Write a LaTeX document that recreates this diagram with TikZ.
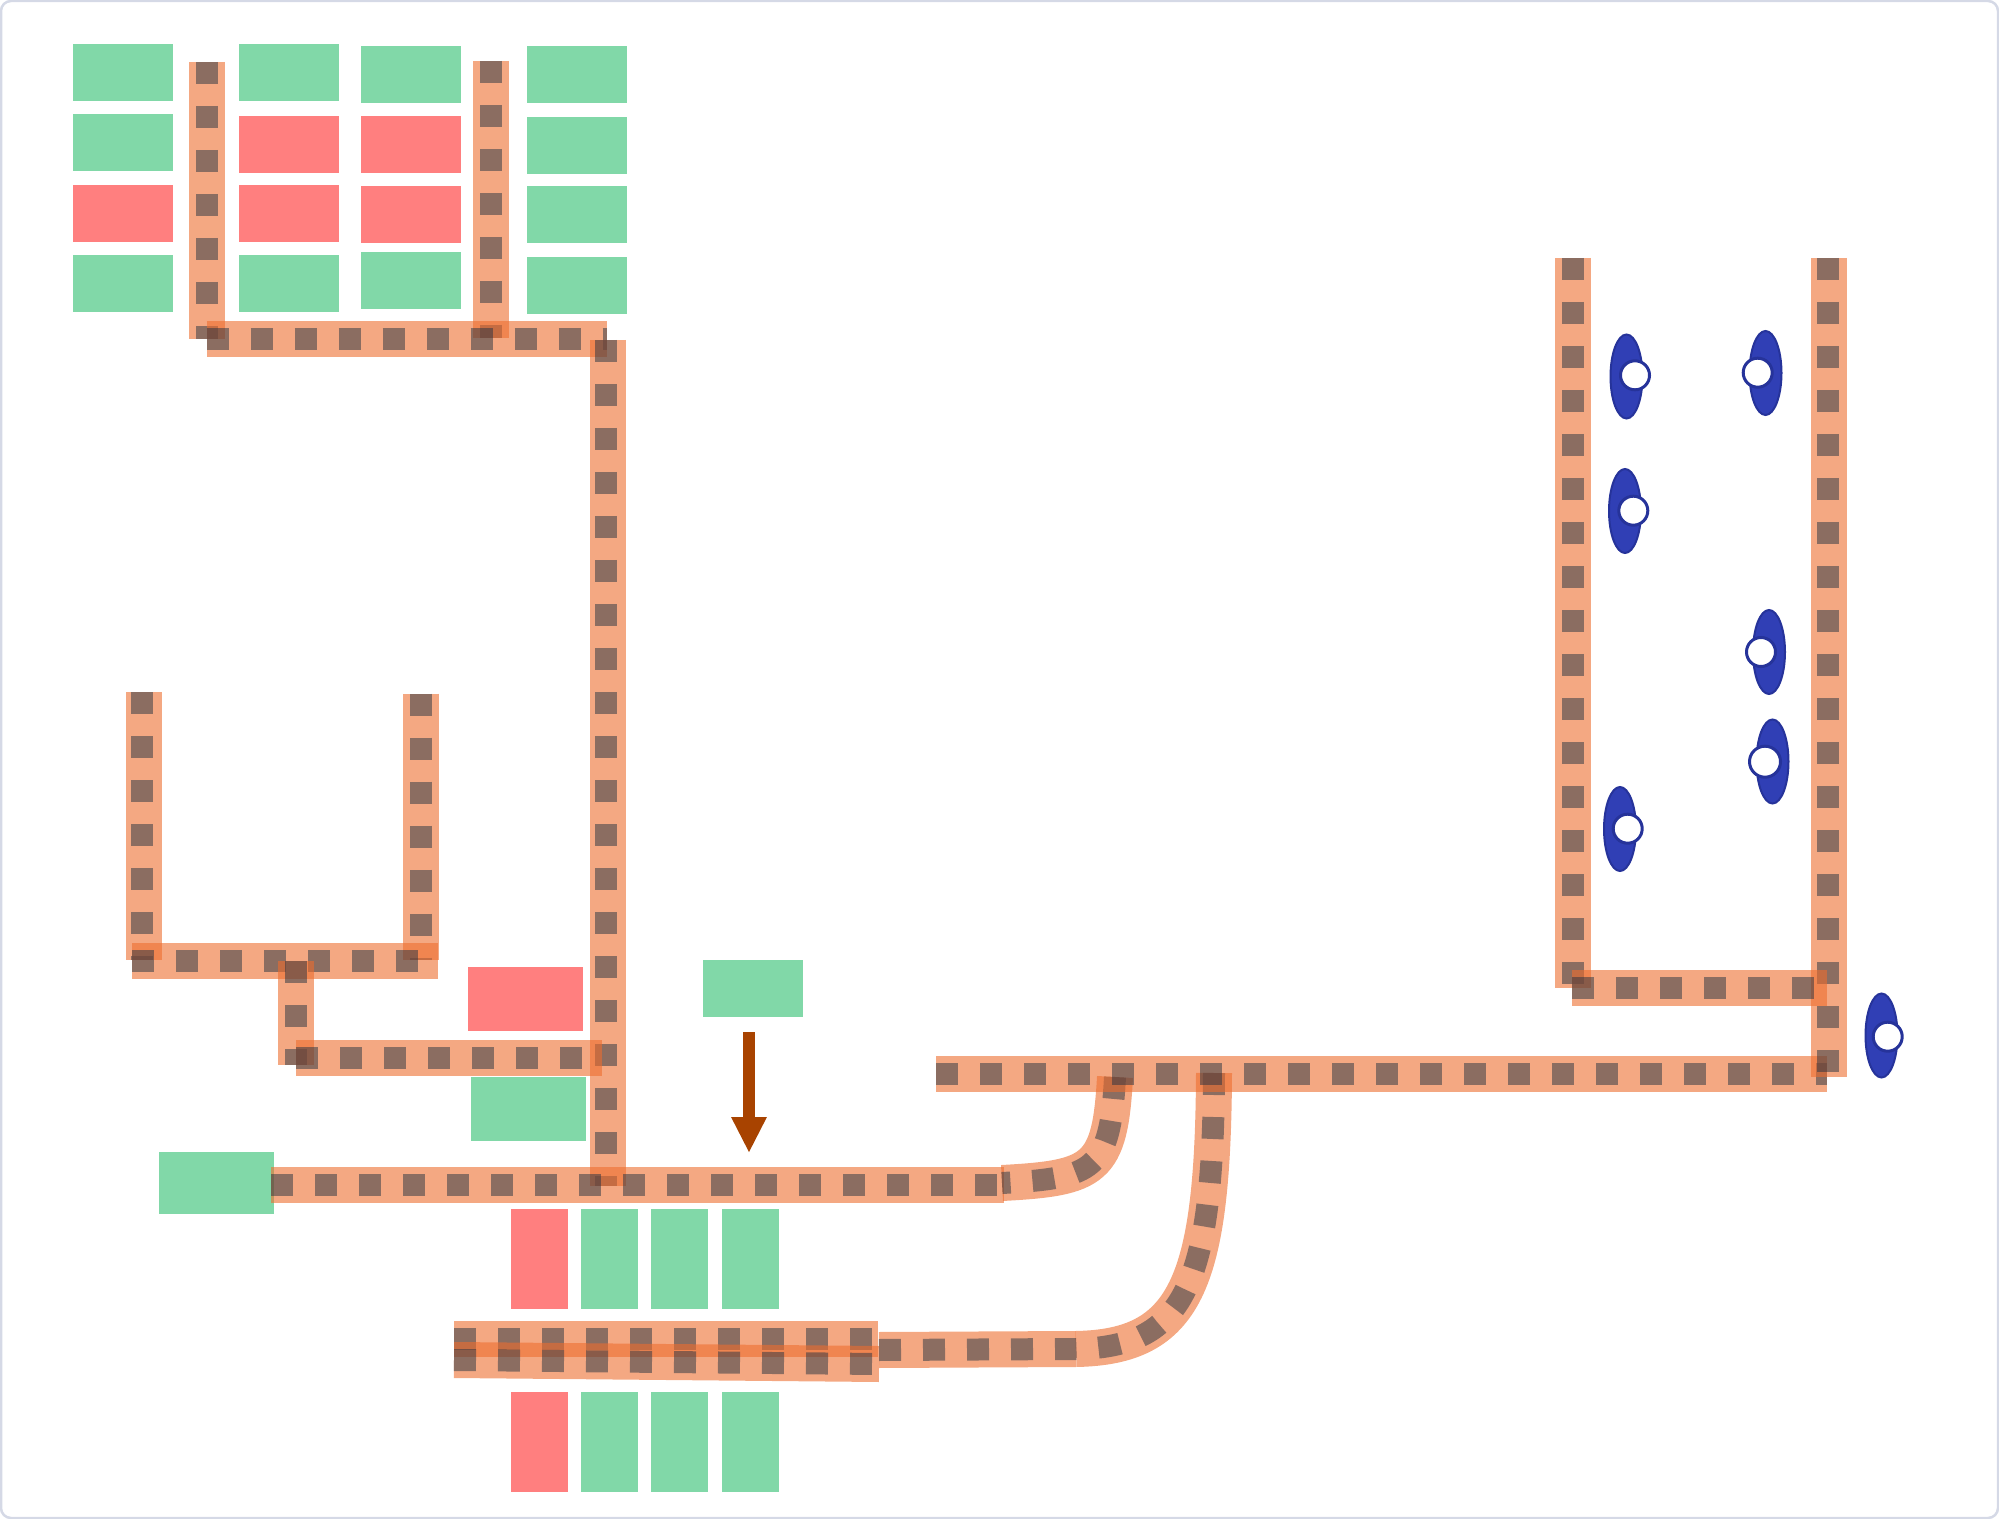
\documentclass[tikz,border=0pt]{standalone}
\usetikzlibrary{shapes.geometric, arrows.meta}

\definecolor{slabgreen}{HTML}{81D8A8}
\definecolor{slabred}{HTML}{FF7F7F}
\definecolor{railorange}{HTML}{ED6E2F}
\definecolor{tiedark}{HTML}{243242}
\definecolor{podblue}{HTML}{303FB5}
\definecolor{podedge}{HTML}{26339A}
\definecolor{arrowrust}{HTML}{A84300}
\definecolor{frameline}{HTML}{D5D9E6}

\newcommand{\track}[2][0]{\draw[railband] #2; \draw[railties, xshift=#1pt] #2;}

\begin{document}
\begin{tikzpicture}[
    x=0.5pt, y=-0.5pt,
    >=Stealth,
    slab/.style={rectangle, draw=none, inner sep=0pt, minimum width=50pt, minimum height=28.5pt},
    bigslab/.style={slab, minimum width=57.5pt, minimum height=32pt},
    tallslab/.style={slab, minimum width=28.5pt, minimum height=50pt},
    railband/.style={draw=railorange, draw opacity=0.6, line width=18pt},
    railties/.style={draw=tiedark, draw opacity=0.5, line width=11pt, dash pattern=on 11pt off 11pt},
    pod/.style={ellipse, fill=podblue, draw=podedge, line width=1pt, inner sep=0pt, minimum width=16pt, minimum height=42pt},
    hole/.style={circle, fill=white, draw=podedge, line width=1.5pt, inner sep=0pt, minimum size=14.5pt}
]

    \useasboundingbox (0,0) rectangle (1999,1519);
    \draw[frameline, line width=1.25pt, rounded corners=5pt] (1,1) rectangle (1998,1518);

    \node[slab, fill=slabgreen] at (123, 73) (rowAa) {};
    \node[slab, fill=slabgreen] at (123, 143) (rowAb) {};
    \node[slab, fill=slabred]   at (123, 214) (rowAc) {};
    \node[slab, fill=slabgreen] at (123, 284) (rowAd) {};

    \node[slab, fill=slabgreen] at (288.5, 73) (rowBa) {};
    \node[slab, fill=slabred]   at (288.5, 144.5) (rowBb) {};
    \node[slab, fill=slabred]   at (288.5, 214) (rowBc) {};
    \node[slab, fill=slabgreen] at (288.5, 284) (rowBd) {};

    \node[slab, fill=slabgreen] at (410.5, 74.5) (rowCa) {};
    \node[slab, fill=slabred]   at (410.5, 145) (rowCb) {};
    \node[slab, fill=slabred]   at (410.5, 215) (rowCc) {};
    \node[slab, fill=slabgreen] at (411, 281) (rowCd) {};

    \node[slab, fill=slabgreen] at (576.5, 74.5) (rowDa) {};
    \node[slab, fill=slabgreen] at (576.5, 145.5) (rowDb) {};
    \node[slab, fill=slabgreen] at (576.5, 215) (rowDc) {};
    \node[slab, fill=slabgreen] at (576.5, 285.5) (rowDd) {};

    \node[slab, fill=slabgreen] at (752.5, 988) (depot) {};
    \node[bigslab, fill=slabred]   at (525, 999) (sideRed) {};
    \node[bigslab, fill=slabgreen] at (528.5, 1108.5) (sideGreen) {};
    \node[bigslab, fill=slabgreen, minimum height=31pt] at (216, 1183) (headGreen) {};

    \node[tallslab, fill=slabred]   at (539, 1259) (upperA) {};
    \node[tallslab, fill=slabgreen] at (609.5, 1259) (upperB) {};
    \node[tallslab, fill=slabgreen] at (679, 1259) (upperC) {};
    \node[tallslab, fill=slabgreen] at (750, 1259) (upperD) {};

    \node[tallslab, fill=slabred]   at (539, 1441.5) (lowerA) {};
    \node[tallslab, fill=slabgreen] at (609.5, 1441.5) (lowerB) {};
    \node[tallslab, fill=slabgreen] at (679, 1441.5) (lowerC) {};
    \node[tallslab, fill=slabgreen] at (750, 1441.5) (lowerD) {};

    % top yard
    \track{(207, 62) -- (207, 339)}
    \track{(491, 61) -- (491, 338)}
    \track{(206.5, 339.5) -- (606.5, 339.5)}
    \track[-1]{(608, 340) -- (608, 1186)}

    % left fork
    \track[-1]{(144, 692) -- (144, 960)}
    \track{(421, 693.5) -- (421, 960)}
    \track{(132, 960.5) -- (437.5, 960.5)}
    \track{(296, 961) -- (296, 1065)}
    \track{(296, 1058) -- (602, 1058)}

    % bottom lines
    \track{(271, 1185) -- (1004, 1185)}
    \track{(1115, 1077) .. controls (1110, 1170) and (1095, 1178) .. (1002, 1183)}
    \track{(454, 1339) -- (877.5, 1339)}
    \track{(454, 1360) -- (879, 1364)}
    \track{(879, 1350) -- (1076, 1349)}
    \track{(1214, 1073) .. controls (1213, 1285) and (1185, 1347) .. (1076, 1349)}

    % right fork
    \track{(936, 1074) -- (1827, 1074)}
    \track{(1572.5, 258) -- (1572.5, 988)}
    \track[-0.5]{(1828.5, 258) -- (1828.5, 1077)}
    \track{(1572, 988) -- (1827, 988)}

    \coordinate (arrowTop) at (749, 1032);
    \coordinate (arrowTip) at (749, 1153);
    \draw[-{Triangle[length=18pt, width=16.5pt]}, arrowrust, line width=6pt] (arrowTop) -- (arrowTip);

    \node[pod] at (1626.5, 376.5) (podA) {};
    \node[hole] at (1635, 375.3) (holeA) {};
    \node[pod] at (1765.5, 373) (podB) {};
    \node[hole] at (1757.7, 372.7) (holeB) {};
    \node[pod] at (1625, 511) (podC) {};
    \node[hole] at (1633.3, 510.7) (holeC) {};
    \node[pod] at (1769, 652) (podD) {};
    \node[hole] at (1761, 652) (holeD) {};
    \node[pod] at (1772.5, 761.5) (podE) {};
    \node[hole, minimum size=15.5pt] at (1765, 761.7) (holeE) {};
    \node[pod] at (1620, 829) (podF) {};
    \node[hole] at (1627.7, 828.7) (holeF) {};
    \node[pod] at (1881.5, 1035.5) (podG) {};
    \node[hole] at (1887.7, 1036.7) (holeG) {};
\end{tikzpicture}
\end{document}
